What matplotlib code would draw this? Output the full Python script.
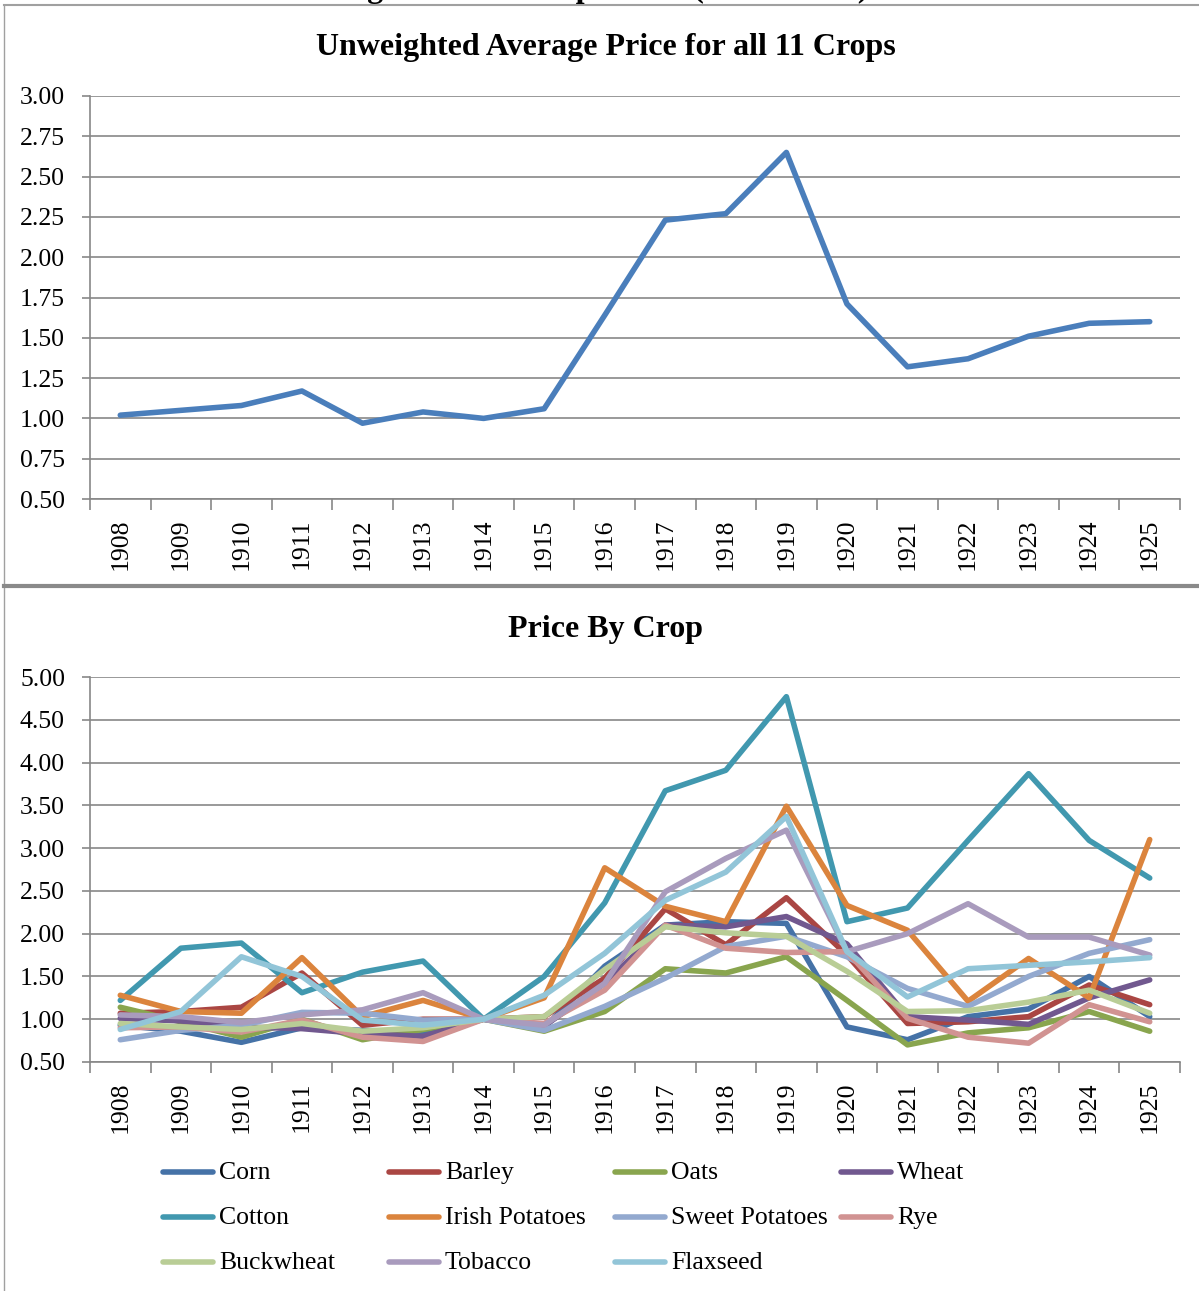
import matplotlib
matplotlib.use("Agg")
import matplotlib.pyplot as plt
from matplotlib.lines import Line2D

plt.rcParams['font.family'] = ['Liberation Serif', 'DejaVu Serif']

W, H = 1199, 1291

years = list(range(1908, 1926))
avg_price = [1.02, 1.05, 1.08, 1.17, 0.97, 1.04, 1.00, 1.06, 1.64, 2.23,
             2.27, 2.65, 1.71, 1.32, 1.37, 1.51, 1.59, 1.60]

crops = ['Corn', 'Barley', 'Oats', 'Wheat', 'Cotton', 'Irish Potatoes',
         'Sweet Potatoes', 'Rye', 'Buckwheat', 'Tobacco', 'Flaxseed']
corn = [0.93, 0.86, 0.73, 0.90, 0.87, 0.85, 1.00, 0.90, 1.62, 2.10, 2.14, 2.12, 0.91, 0.76, 1.03, 1.12, 1.50, 1.03]
barley = [1.07, 1.09, 1.14, 1.54, 0.93, 1.00, 1.00, 1.03, 1.48, 2.29, 1.87, 2.42, 1.75, 0.95, 0.97, 1.03, 1.40, 1.17]
oats = [1.14, 0.97, 0.79, 1.00, 0.76, 0.88, 1.00, 0.86, 1.09, 1.59, 1.54, 1.73, 1.22, 0.70, 0.84, 0.90, 1.09, 0.86]
wheat = [1.01, 0.98, 0.91, 0.89, 0.83, 0.80, 1.00, 0.92, 1.42, 2.10, 2.08, 2.20, 1.88, 1.03, 0.99, 0.94, 1.25, 1.46]
cotton = [1.22, 1.83, 1.89, 1.31, 1.55, 1.68, 1.00, 1.50, 2.36, 3.67, 3.91, 4.77, 2.14, 2.30, 3.09, 3.87, 3.09, 2.65]
irish_potatoes = [1.28, 1.09, 1.07, 1.72, 1.03, 1.22, 1.00, 1.25, 2.77, 2.32, 2.14, 3.49, 2.33, 2.04, 1.21, 1.71, 1.25, 3.10]
sweet_potatoes = [0.76, 0.87, 0.93, 1.08, 1.07, 0.99, 1.00, 0.87, 1.15, 1.48, 1.85, 1.97, 1.73, 1.36, 1.15, 1.50, 1.77, 1.93]
rye = [0.90, 0.91, 0.85, 0.99, 0.79, 0.74, 1.00, 0.95, 1.34, 2.10, 1.83, 1.78, 1.79, 1.01, 0.79, 0.72, 1.17, 0.97]
buckwheat = [0.95, 0.91, 0.88, 0.95, 0.86, 0.90, 1.00, 1.03, 1.58, 2.08, 2.01, 1.97, 1.56, 1.09, 1.10, 1.20, 1.34, 1.07]
tobacco = [1.05, 1.03, 0.96, 1.05, 1.11, 1.31, 1.00, 0.93, 1.42, 2.49, 2.88, 3.21, 1.79, 2.00, 2.35, 1.96, 1.96, 1.75]
flaxseed = [0.88, 1.09, 1.73, 1.50, 0.99, 0.93, 1.00, 1.28, 1.77, 2.39, 2.72, 3.37, 1.79, 1.26, 1.59, 1.63, 1.67, 1.72]

series = [corn, barley, oats, wheat, cotton, irish_potatoes,
          sweet_potatoes, rye, buckwheat, tobacco, flaxseed]
colors = ['#4572A7', '#AA4643', '#89A54E', '#71588F', '#4198AF', '#DB843D',
          '#93A9CF', '#D19392', '#B9CD96', '#A99BBD', '#92C5D8']

GRID = '#878787'
LW = 4.0


def fx(x):
    return x / W


def fy(y):
    return 1 - y / H


def make_axes(top, bottom):
    ax = fig.add_axes([fx(90), fy(bottom), fx(1180) - fx(90), fy(top) - fy(bottom)])
    for side in ['top', 'right']:
        ax.spines[side].set_visible(False)
    for side in ['left', 'bottom']:
        ax.spines[side].set_color(GRID)
        ax.spines[side].set_linewidth(1.2)
    ax.set_xlim(-0.5, len(years) - 0.5)
    ax.set_xticks(range(len(years)))
    ax.set_xticklabels([str(y) for y in years], rotation=90, fontsize=18.5)
    ax.set_xticks([i - 0.5 for i in range(len(years) + 1)], minor=True)
    ax.tick_params(axis='x', which='major', length=0, pad=14)
    ax.tick_params(axis='x', which='minor', length=8, width=1.2, color=GRID)
    ax.tick_params(axis='y', length=6, width=1.2, color=GRID, pad=12, labelsize=18.5)
    ax.yaxis.grid(True, color=GRID, linewidth=1.2)
    ax.set_axisbelow(True)
    return ax


fig = plt.figure(figsize=(W / 100, H / 100), dpi=100)

# page frame: heading running off the top, rules between the two charts
fig.text(fx(606), fy(-3), 'Agricultural Crop Prices (1914 = 1.00)', ha='center',
         va='baseline', fontsize=23, fontweight='bold')
fig.add_artist(Line2D([fx(4), 1], [fy(5), fy(5)], color='#a0a0a0', lw=1.5))
fig.add_artist(Line2D([fx(4), fx(4)], [fy(5), 0], color='#a0a0a0', lw=1))
fig.add_artist(Line2D([fx(4), 1], [fy(586), fy(586)], color='#8a8a8a', lw=3))

# average price chart
ax1 = make_axes(96, 499)
ax1.plot(range(len(years)), avg_price, color='#4A7EBB', lw=LW,
         solid_capstyle='round', solid_joinstyle='round')
ax1.set_ylim(0.5, 3.0)
ax1.set_yticks([0.5 + 0.25 * i for i in range(11)])
ax1.set_yticklabels(['%.2f' % (0.5 + 0.25 * i) for i in range(11)])
fig.text(fx(606), fy(48), 'Unweighted Average Price for all 11 Crops', ha='center',
         va='center', fontsize=23, fontweight='bold')

# price by crop chart
ax2 = make_axes(677, 1062)
for name, vals, c in zip(crops, series, colors):
    ax2.plot(range(len(years)), vals, color=c, lw=LW, label=name,
             solid_capstyle='round', solid_joinstyle='round')
ax2.set_ylim(0.5, 5.0)
ax2.set_yticks([0.5 * i for i in range(1, 11)])
ax2.set_yticklabels(['%.2f' % (0.5 * i) for i in range(1, 11)])
fig.text(fx(606), fy(630), 'Price By Crop', ha='center', va='center',
         fontsize=23, fontweight='bold')

# legend, four equal columns filled row by row
for i, (name, c) in enumerate(zip(crops, colors)):
    row, col = divmod(i, 4)
    x0 = 163 + col * 226
    y0 = 1172 + row * 45
    fig.add_artist(Line2D([fx(x0), fx(x0 + 50)], [fy(y0), fy(y0)], color=c,
                          lw=LW, solid_capstyle='round'))
    fig.text(fx(x0 + 56), fy(y0 + 1), name, ha='left', va='center', fontsize=18.5)

fig.savefig('out.png', dpi=100)
